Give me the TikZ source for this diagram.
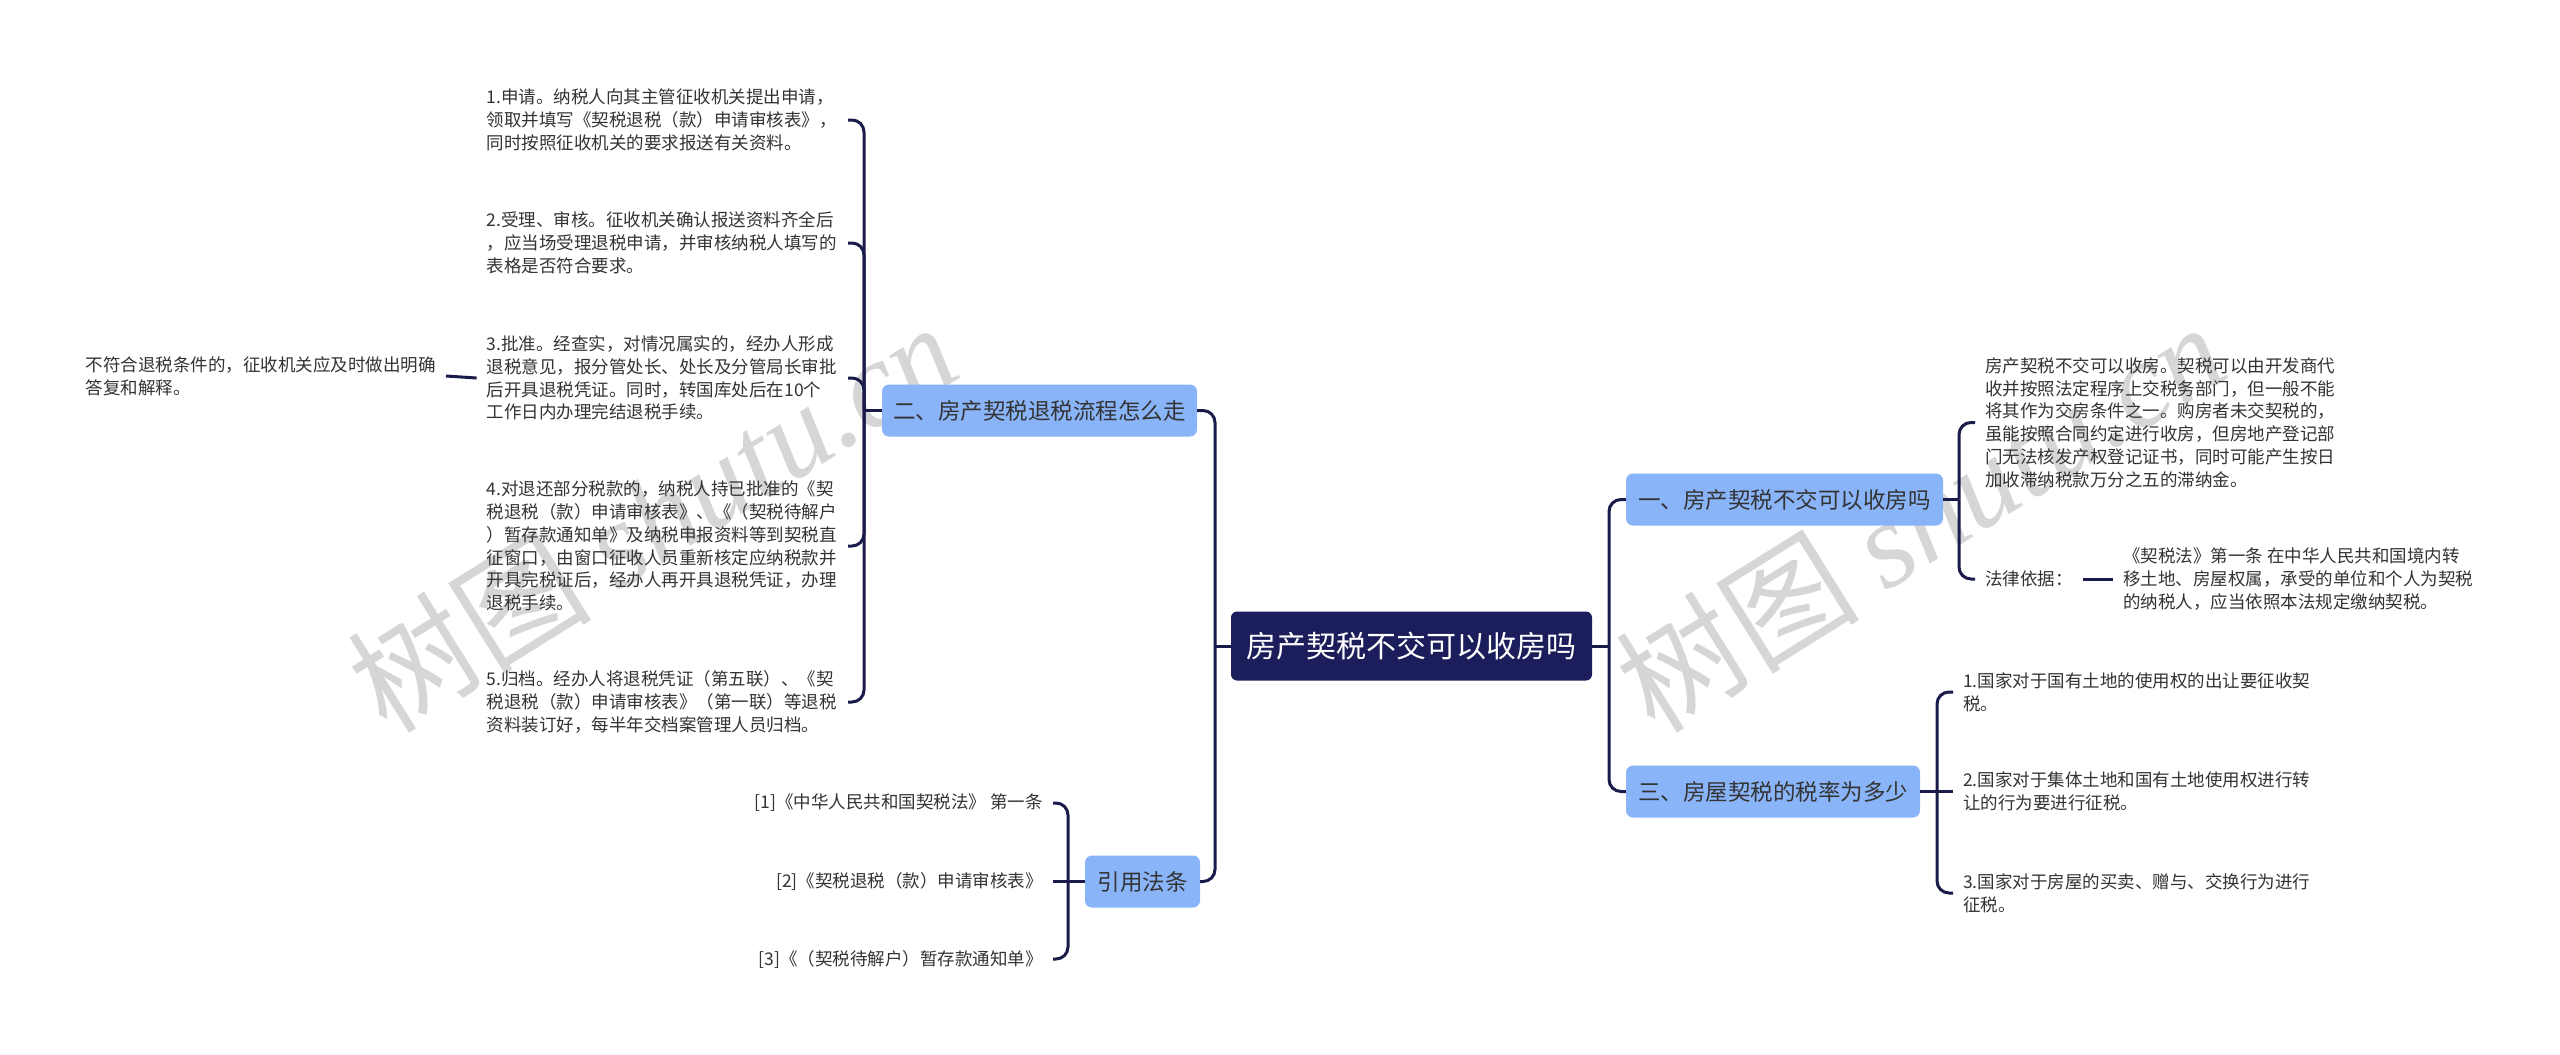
\documentclass[tikz,border=0pt]{standalone}
\usepackage{fontspec}
\setmainfont{Noto Sans CJK SC}
\newfontfamily\wmlatin{Liberation Serif}
\usetikzlibrary{calc}
\definecolor{rootc}{HTML}{1C1E5C}
\definecolor{linec}{HTML}{1A1B4B}
\definecolor{branchc}{HTML}{8AB4F8}
\definecolor{txtc}{HTML}{333333}
\definecolor{wmc}{HTML}{D6D6D6}
\begin{document}
\begin{tikzpicture}[x=1pt,y=-1pt,
  conn/.style={draw=linec, line width=3pt, rounded corners=12pt},
  stem/.style={draw=linec, line width=3pt},
  rootnode/.style={fill=rootc, text=white, rounded corners=6pt, inner sep=0pt,
    minimum height=69pt, minimum width=361pt, font=\fontsize{30}{36}\selectfont},
  branch/.style={fill=branchc, text=txtc, rounded corners=7pt, inner sep=0pt,
    minimum height=52pt, font=\fontsize{22.5}{27}\selectfont},
  leaf/.style={text=txtc, inner xsep=10pt, inner ysep=0pt, align=left,
    font=\fontsize{17.5}{22.8}\selectfont},
  wm/.style={text=wmc, rotate=32, inner sep=0pt, font=\fontsize{122}{130}\selectfont},
]
\useasboundingbox[fill=white] (0,0) rectangle (2560,1055);

% watermarks
\node[wm] (wm1) at (652,516) {树图 {\wmlatin\itshape shutu.cn}};
\node[wm] (wm2) at (1920,516) {树图 {\wmlatin\itshape shutu.cn}};

% root and branches
\node[rootnode] (root) at (1411.5,646) {房产契税不交可以收房吗};
\node[branch, minimum width=315pt] (b2) at (1039.5,410.5) {二、房产契税退税流程怎么走};
\node[branch, minimum width=115pt] (b4) at (1142.5,881.5) {引用法条};
\node[branch, minimum width=317pt] (b1) at (1784.5,499.5) {一、房产契税不交可以收房吗};
\node[branch, minimum width=294pt] (b3) at (1773,791.5) {三、房屋契税的税率为多少};

% left column leaves
\node[leaf, text width=351pt, anchor=east] (l1) at (848,120) {1.申请。纳税人向其主管征收机关提出申请，\\领取并填写《契税退税（款）申请审核表》，\\同时按照征收机关的要求报送有关资料。};
\node[leaf, text width=351pt, anchor=east] (l2) at (848,243) {2.受理、审核。征收机关确认报送资料齐全后\\，应当场受理退税申请，并审核纳税人填写的\\表格是否符合要求。};
\node[leaf, text width=351pt, anchor=east] (l3) at (848,378) {3.批准。经查实，对情况属实的，经办人形成\\退税意见，报分管处长、处长及分管局长审批\\后开具退税凭证。同时，转国库处后在10个\\工作日内办理完结退税手续。};
\node[leaf, text width=351pt, anchor=east] (l4) at (848,546) {4.对退还部分税款的，纳税人持已批准的《契\\税退税（款）申请审核表》、《（契税待解户\\）暂存款通知单》及纳税申报资料等到契税直\\征窗口，由窗口征收人员重新核定应纳税款并\\开具完税证后，经办人再开具退税凭证，办理\\退税手续。};
\node[leaf, text width=351pt, anchor=east] (l5) at (848,702) {5.归档。经办人将退税凭证（第五联）、《契\\税退税（款）申请审核表》（第一联）等退税\\资料装订好，每半年交档案管理人员归档。};
\node[leaf, anchor=east] (l3c) at (446,376) {不符合退税条件的，征收机关应及时做出明确\\答复和解释。};

% citations
\node[leaf, anchor=east] (c1) at (1053,803) {[1]《中华人民共和国契税法》 第一条};
\node[leaf, anchor=east] (c2) at (1053,881.5) {[2]《契税退税（款）申请审核表》};
\node[leaf, anchor=east] (c3) at (1053,959) {[3]《（契税待解户）暂存款通知单》};

% right leaves
\node[leaf, anchor=west] (r1) at (1975,422.5) {房产契税不交可以收房。契税可以由开发商代\\收并按照法定程序上交税务部门，但一般不能\\将其作为交房条件之一。购房者未交契税的，\\虽能按照合同约定进行收房，但房地产登记部\\门无法核发产权登记证书，同时可能产生按日\\加收滞纳税款万分之五的滞纳金。};
\node[leaf, anchor=west] (law) at (1975,579) {法律依据：};
\node[leaf, anchor=west] (lawt) at (2113,579) {《契税法》第一条 在中华人民共和国境内转\\移土地、房屋权属，承受的单位和个人为契税\\的纳税人，应当依照本法规定缴纳契税。};
\node[leaf, anchor=west] (s1) at (1953,692) {1.国家对于国有土地的使用权的出让要征收契\\税。};
\node[leaf, anchor=west] (s2) at (1953,791.5) {2.国家对于集体土地和国有土地使用权进行转\\让的行为要进行征税。};
\node[leaf, anchor=west] (s3) at (1953,893) {3.国家对于房屋的买卖、赠与、交换行为进行\\征税。};

% trunk coordinates
\coordinate (tL) at (1215,646);
\coordinate (tR) at (1609,646);
\coordinate (t2) at (864,410.5);
\coordinate (t4) at (1068,881.5);
\coordinate (t1) at (1959,499.5);
\coordinate (t3) at (1937,791.5);

% root connectors
\draw[stem] (root.west) -- (tL);
\draw[conn] (tL) -- (tL |- b2.east) -- (b2.east);
\draw[conn] (tL) -- (tL |- b4.east) -- (b4.east);
\draw[stem] (root.east) -- (tR);
\draw[conn] (tR) -- (tR |- b1.west) -- (b1.west);
\draw[conn] (tR) -- (tR |- b3.west) -- (b3.west);

% branch 二
\draw[stem] (b2.west) -- (t2);
\draw[conn] (t2) -- (t2 |- l1.east) -- (l1.east);
\draw[conn] (t2) -- (t2 |- l2.east) -- (l2.east);
\draw[conn] (t2) -- (t2 |- l3.east) -- (l3.east);
\draw[conn] (t2) -- (t2 |- l4.east) -- (l4.east);
\draw[conn] (t2) -- (t2 |- l5.east) -- (l5.east);
\draw[stem] (l3.west) -- (l3c.east);

% branch 引用法条
\draw[stem] (b4.west) -- (c2.east);
\draw[conn] (t4) -- (t4 |- c1.east) -- (c1.east);
\draw[conn] (t4) -- (t4 |- c3.east) -- (c3.east);

% branch 一
\draw[stem] (b1.east) -- (t1);
\draw[conn] (t1) -- (t1 |- r1.west) -- (r1.west);
\draw[conn] (t1) -- (t1 |- law.west) -- (law.west);
\draw[stem] (law.east) -- (lawt.west);

% branch 三
\draw[stem] (b3.east) -- (s2.west);
\draw[conn] (t3) -- (t3 |- s1.west) -- (s1.west);
\draw[conn] (t3) -- (t3 |- s3.west) -- (s3.west);
\end{tikzpicture}
\end{document}
